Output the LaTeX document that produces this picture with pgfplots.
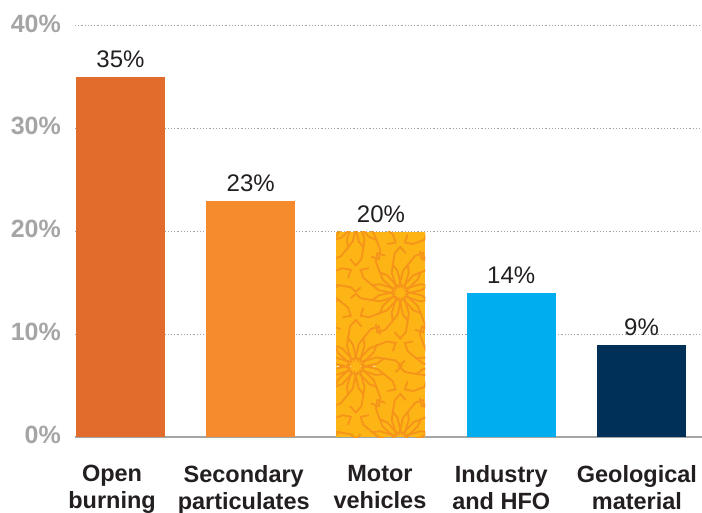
\documentclass[border=0pt]{standalone}
\usepackage{pgfplots}
\pgfplotsset{compat=1.18}
\usetikzlibrary{patterns.meta}
\usepackage{fontspec}
\setmainfont{Liberation Sans}
\definecolor{cOpen}{HTML}{E26C2B}
\definecolor{cSec}{HTML}{F68B2E}
\definecolor{cMot}{HTML}{FDB515}
\definecolor{cMotL}{HTML}{F5931A}
\definecolor{cInd}{HTML}{00AEEF}
\definecolor{cGeo}{HTML}{003057}
\definecolor{tickgray}{HTML}{A5A5A5}
\definecolor{txt}{HTML}{231F20}

\newcommand\rosette[2]{%
\begin{scope}[shift={(#1,#2)}]
\foreach \a in {0,30,...,330}{
  \draw[line width=1.8pt] (\a:10pt) -- (\a+15:6pt) -- (\a+30:10pt);
  \draw[line width=1.8pt] (\a:10pt) -- (\a+7:22pt) -- (\a+15:29pt) -- (\a+23:22pt) -- (\a+30:10pt);
  \draw[line width=1.8pt] (\a+15:29pt) -- (\a+8:40pt) -- (\a:46pt) -- (\a-8:40pt);
}
\end{scope}}

\tikzdeclarepattern{
  name=rosette,
  type=uncolored,
  bounding box={(0pt,0pt) and (89pt,147pt)},
  tile size={(89pt,147pt)},
  code={
    \rosette{44.5pt}{73.5pt}
    \rosette{0pt}{0pt}
    \rosette{89pt}{0pt}
    \rosette{0pt}{147pt}
    \rosette{89pt}{147pt}
  }
}

\begin{document}
\begin{tikzpicture}
\useasboundingbox (-75pt,-75pt) rectangle (627pt,437pt);
\begin{axis}[
  at={(0pt,0pt)}, anchor=south west,
  scale only axis, width=627pt, height=411pt,
  xmin=-0.3493, xmax=4.4645, ymin=0, ymax=40,
  ybar, bar width=89pt,
  axis lines*=left,
  x axis line style={draw=tickgray, line width=1.5pt},
  y axis line style={draw=none},
  ytick={0,10,20,30,40},
  xtick={-0.065,0.946,1.992,2.923,3.965},
  xticklabels={{Open\\burning},{Secondary\\particulates},{Motor\\vehicles},{Industry\\and HFO},{Geological\\material}},
  major tick length=0pt,
  ymajorgrids,
  grid style={dash pattern=on 1.2pt off 2pt, draw=tickgray, line width=1pt},
  yticklabel={\pgfmathprintnumber{\tick}\%},
  /pgf/number format/assume math mode=true,
  yticklabel style={font=\fontsize{25}{25}\selectfont\bfseries, text=tickgray, inner sep=0pt, anchor=east, xshift=-14pt, yshift=2.5pt},
  xticklabel style={font=\fontsize{23.5}{27}\selectfont\bfseries, text=txt, align=center, inner sep=0pt, anchor=north, yshift=-28pt},
  vlab/.style={
    nodes near coords={\pgfmathprintnumber{\pgfplotspointmeta}\%},
    nodes near coords style={font=\fontsize{24}{24}\selectfont, text=txt, inner sep=0pt, anchor=south, yshift=9pt},
  },
]
\addplot[fill=cOpen, draw=none, bar shift=0pt, vlab] coordinates {(0,35)};
\addplot[fill=cSec, draw=none, bar shift=0pt, vlab] coordinates {(1,23)};
\addplot[fill=cMot, draw=none, bar shift=0pt, vlab] coordinates {(2,20)};
\addplot[draw=none, pattern=rosette, pattern color=cMotL, bar shift=0pt] coordinates {(2,20)};
\addplot[fill=cInd, draw=none, bar shift=0pt, vlab] coordinates {(3,14)};
\addplot[fill=cGeo, draw=none, bar shift=0pt, vlab] coordinates {(4,9)};
\end{axis}
\end{tikzpicture}
\end{document}
